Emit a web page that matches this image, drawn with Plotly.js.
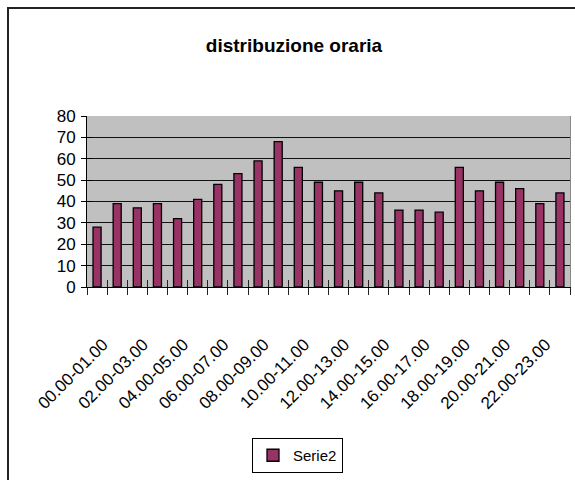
<!DOCTYPE html>
<html>
<head>
<meta charset="utf-8">
<script src="https://cdn.plot.ly/plotly-3.0.1.min.js"></script>
<style>
html,body{margin:0;padding:0;background:#fff;}
#wrap{position:relative;width:575px;height:480px;overflow:hidden;}
#chart{width:575px;height:480px;}
#frame{position:absolute;left:7px;top:7px;width:600px;height:500px;border-left:2px solid #222;border-top:2px solid #222;pointer-events:none;}
</style>
</head>
<body>
<div id="wrap"><div id="chart"></div><div id="frame"></div></div>
<script>
const categories = ["00.00-01.00","01.00-02.00","02.00-03.00","03.00-04.00","04.00-05.00","05.00-06.00",
  "06.00-07.00","07.00-08.00","08.00-09.00","09.00-10.00","10.00-11.00","11.00-12.00",
  "12.00-13.00","13.00-14.00","14.00-15.00","15.00-16.00","16.00-17.00","17.00-18.00",
  "18.00-19.00","19.00-20.00","20.00-21.00","21.00-22.00","22.00-23.00","23.00-24.00"];
const serie2 = [28,39,37,39,32,41,48,53,59,68,56,49,45,49,44,36,36,35,56,45,49,46,39,44];
const yTicks = [0,10,20,30,40,50,60,70,80];

const xIdx = categories.map((c,i)=>i);
const shownIdx = xIdx.filter(i=>i%2===0);
const shownText = shownIdx.map(i=>categories[i]);

const font = "Arial, 'Liberation Sans', sans-serif";

const trace = {
  type:'bar', x:xIdx, y:serie2, name:'Serie2', width:0.4,
  marker:{color:'#993366', line:{color:'#000', width:1.3}},
  showlegend:true, hoverinfo:'skip'
};
const ghost = {type:'scatter', x:[-0.5], y:[0], xaxis:'x2', yaxis:'y2', mode:'markers',
  marker:{opacity:0}, showlegend:false, hoverinfo:'skip'};
const ghost2 = {type:'scatter', x:[-0.5], y:[0], xaxis:'x', yaxis:'y3', mode:'markers',
  marker:{opacity:0}, showlegend:false, hoverinfo:'skip'};

const layout = {
  width:575, height:480,
  margin:{l:87, r:5, t:116, b:193},
  paper_bgcolor:'#fff', plot_bgcolor:'#c0c0c0',
  font:{family:font, color:'#000'},
  title:{text:'<b>distribuzione oraria</b>', font:{family:font, size:19, color:'#000'},
    x:294/575, xref:'container', xanchor:'center', y:1-45/480, yref:'container', yanchor:'middle'},
  xaxis:{range:[-0.5,23.5], tickmode:'array', tickvals:shownIdx, ticktext:shownText,
    tickangle:-45, ticks:'', showgrid:false, zeroline:false, showline:true, linecolor:'#000', linewidth:1,
    tickfont:{family:font, size:17, color:'#000'}, ticklabelstandoff:40, ticklabelshift:6,
    minor:{tickmode:'linear', tick0:-0.5, dtick:1, ticks:'outside', ticklen:7, tickcolor:'#222', tickwidth:1, showgrid:false},
    fixedrange:true},
  xaxis2:{overlaying:'x', anchor:'y', side:'bottom', range:[-0.5,23.5], tickmode:'linear', tick0:-0.5, dtick:1,
    ticks:'inside', ticklen:7, tickcolor:'#222', showticklabels:false, showgrid:false, zeroline:false, showline:false},
  yaxis:{range:[0,80], tickmode:'array', tickvals:yTicks, ticks:'outside', ticklen:5, tickcolor:'#000',
    showgrid:true, gridcolor:'#111', gridwidth:1, zeroline:false, showline:true, linecolor:'#000', linewidth:1,
    tickfont:{family:font, size:17, color:'#000'}, ticklabelstandoff:2},
  yaxis2:{overlaying:'y', anchor:'x', side:'left', range:[0,80], tickmode:'array', tickvals:yTicks,
    ticks:'inside', ticklen:5, tickcolor:'#000', showticklabels:false, showgrid:false, zeroline:false, showline:false},
  yaxis3:{overlaying:'y', anchor:'x', side:'right', range:[0,80], ticks:'', showticklabels:false,
    showgrid:false, zeroline:false, showline:true, linecolor:'#888', linewidth:1},
  legend:{x:(252-87)/483, xanchor:'left', y:(287-438)/171, yanchor:'top', orientation:'v',
    bgcolor:'#fff', bordercolor:'#000', borderwidth:1, font:{family:font, size:15, color:'#000'},
    itemwidth:30},
  bargap:0.6
};
Plotly.newPlot('chart',[trace, ghost, ghost2],layout,{staticPlot:true, displayModeBar:false});
</script>
</body>
</html>
